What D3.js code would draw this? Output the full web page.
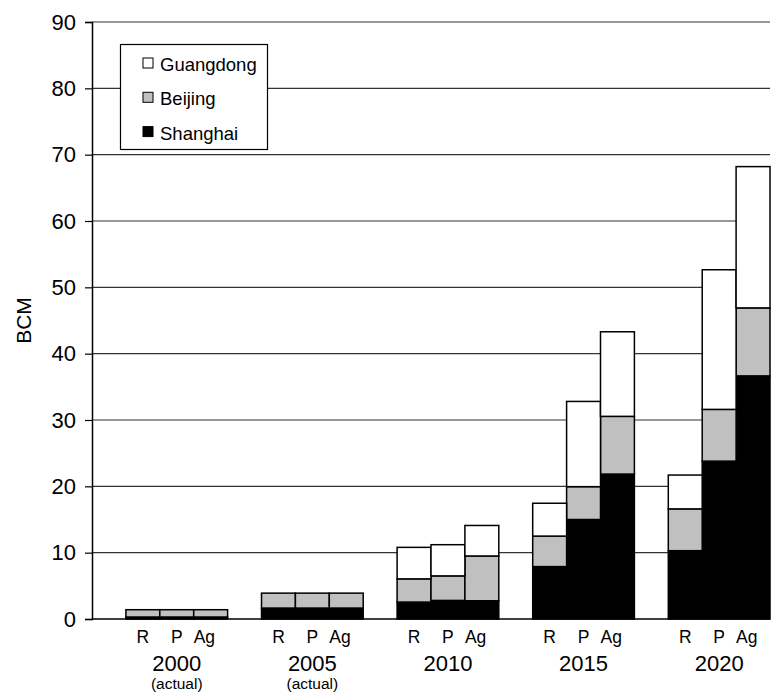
<!DOCTYPE html>
<html>
<head>
<meta charset="utf-8">
<script src="https://cdn.jsdelivr.net/npm/d3@7"></script>
<style>
  body { margin:0; background:#fff; }
  svg text { font-family: "Liberation Sans", Arial, sans-serif; fill:#000; }
</style>
</head>
<body>
<div id="chart"></div>
<script>
// LNG demand scenarios, BCM
const years = ['2000','2005','2010','2015','2020'];
const yearNotes = ['(actual)','(actual)','','',''];
const scenarios = ['R','P','Ag'];
const seriesNames = ['Shanghai','Beijing','Guangdong'];
const seriesColors = ['#000000','#c0c0c0','#ffffff'];
// one value per year x scenario, in order R,P,Ag
const shanghai  = [0.3,0.3,0.3, 1.65,1.65,1.65, 2.55,2.8,2.75, 7.9,15.0,21.85, 10.3,23.8,36.65];
const beijing   = [1.1,1.1,1.1, 2.25,2.25,2.25, 3.5,3.7,6.75,  4.6,4.95,8.7,   6.3,7.8,10.25];
const guangdong = [0,0,0,       0,0,0,          4.75,4.7,4.6,  4.95,12.85,12.75, 5.1,21.05,21.3];
const yTicks = [0,10,20,30,40,50,60,70,80,90];

(function(){
  const W = 772, H = 696;
  const left = 92, right = 770, top = 22, bottom = 619;

  const rows = [];
  years.forEach((yr,i)=>{
    scenarios.forEach((sc,j)=>{
      const k = i*3+j;
      rows.push({ year: yr, sc: sc, Shanghai: shanghai[k], Beijing: beijing[k], Guangdong: guangdong[k] });
    });
  });
  const stacked = d3.stack().keys(seriesNames)(rows);

  const svg = d3.select('#chart').append('svg')
    .attr('width', W).attr('height', H);

  const y = d3.scaleLinear().domain([0,90]).range([bottom, top]);
  const x0 = d3.scaleBand().domain(years).range([left, right]).padding(0);
  const bw = x0.bandwidth();
  const x1 = d3.scaleBand().domain(scenarios).range([bw*0.25, bw]).padding(0);

  // gridlines
  svg.append('g').selectAll('line').data(yTicks.filter(t=>t>0)).enter().append('line')
    .attr('x1', left).attr('x2', right)
    .attr('y1', d=>y(d)).attr('y2', d=>y(d))
    .attr('stroke', '#333').attr('stroke-width', 1.2);

  // y axis
  const yAxis = d3.axisLeft(y).tickValues(yTicks).tickSize(7).tickPadding(9);
  const ga = svg.append('g').attr('transform', `translate(${left},0)`).call(yAxis);
  ga.select('.domain').attr('stroke','#000').attr('stroke-width',1.5);
  ga.selectAll('.tick line').attr('stroke','#000').attr('stroke-width',1.2);
  ga.selectAll('.tick text').style('font-size','22px').attr('fill','#000')
    .style('font-family','"Liberation Sans", Arial, sans-serif');

  svg.append('text')
    .attr('transform', `translate(31,${(top+bottom)/2}) rotate(-90)`)
    .attr('text-anchor','middle')
    .style('font-size','21px')
    .text('BCM');

  // bars
  const layers = svg.append('g').selectAll('g.layer').data(stacked).enter().append('g')
    .attr('class','layer')
    .attr('fill', (d,i)=>seriesColors[i]);
  layers.selectAll('rect').data(d=>d.filter(s=>s[1]-s[0]>0)).enter().append('rect')
    .attr('x', d=>x0(d.data.year)+x1(d.data.sc))
    .attr('width', x1.bandwidth())
    .attr('y', d=>y(d[1]))
    .attr('height', d=>y(d[0])-y(d[1]))
    .attr('stroke','#000').attr('stroke-width',1.5);

  // x axis baseline
  svg.append('line').attr('x1', left).attr('x2', right)
    .attr('y1', bottom).attr('y2', bottom)
    .attr('stroke','#000').attr('stroke-width',1.5);

  // scenario labels
  const anchors = { R:'middle', P:'middle', Ag:'start' };
  svg.append('g').selectAll('text').data(rows).enter().append('text')
    .attr('x', d=>x0(d.year)+x1(d.sc)+(d.sc==='Ag'? 0 : x1.bandwidth()/2))
    .attr('y', 643)
    .attr('text-anchor', d=>anchors[d.sc])
    .style('font-size','17.5px')
    .text(d=>d.sc);

  // year labels
  const yearG = svg.append('g').selectAll('g').data(years).enter().append('g')
    .attr('transform', d=>`translate(${x0(d)+bw*0.25+x1.bandwidth()*1.5},0)`);
  yearG.append('text').attr('y', 671).attr('text-anchor','middle')
    .style('font-size','22px').text(d=>d);
  yearG.append('text').attr('y', 689).attr('text-anchor','middle')
    .style('font-size','15.5px').text((d,i)=>yearNotes[i]);

  // legend
  const lg = svg.append('g').attr('transform','translate(120.5,44.5)');
  lg.append('rect').attr('width',147).attr('height',105)
    .attr('fill','#fff').attr('stroke','#000').attr('stroke-width',1.2);
  const legOrder = seriesNames.slice().reverse();
  const li = lg.selectAll('g.item').data(legOrder).enter().append('g')
    .attr('class','item')
    .attr('transform', (d,i)=>`translate(0,${i*34.3})`);
  li.append('rect').attr('x',22.5).attr('y',13.5).attr('width',10).attr('height',10)
    .attr('fill', d=>seriesColors[seriesNames.indexOf(d)])
    .attr('stroke','#000').attr('stroke-width',1);
  li.append('text').attr('x',39.5).attr('y',26.5)
    .style('font-size','18.5px').text(d=>d);
})();
</script>
</body>
</html>
